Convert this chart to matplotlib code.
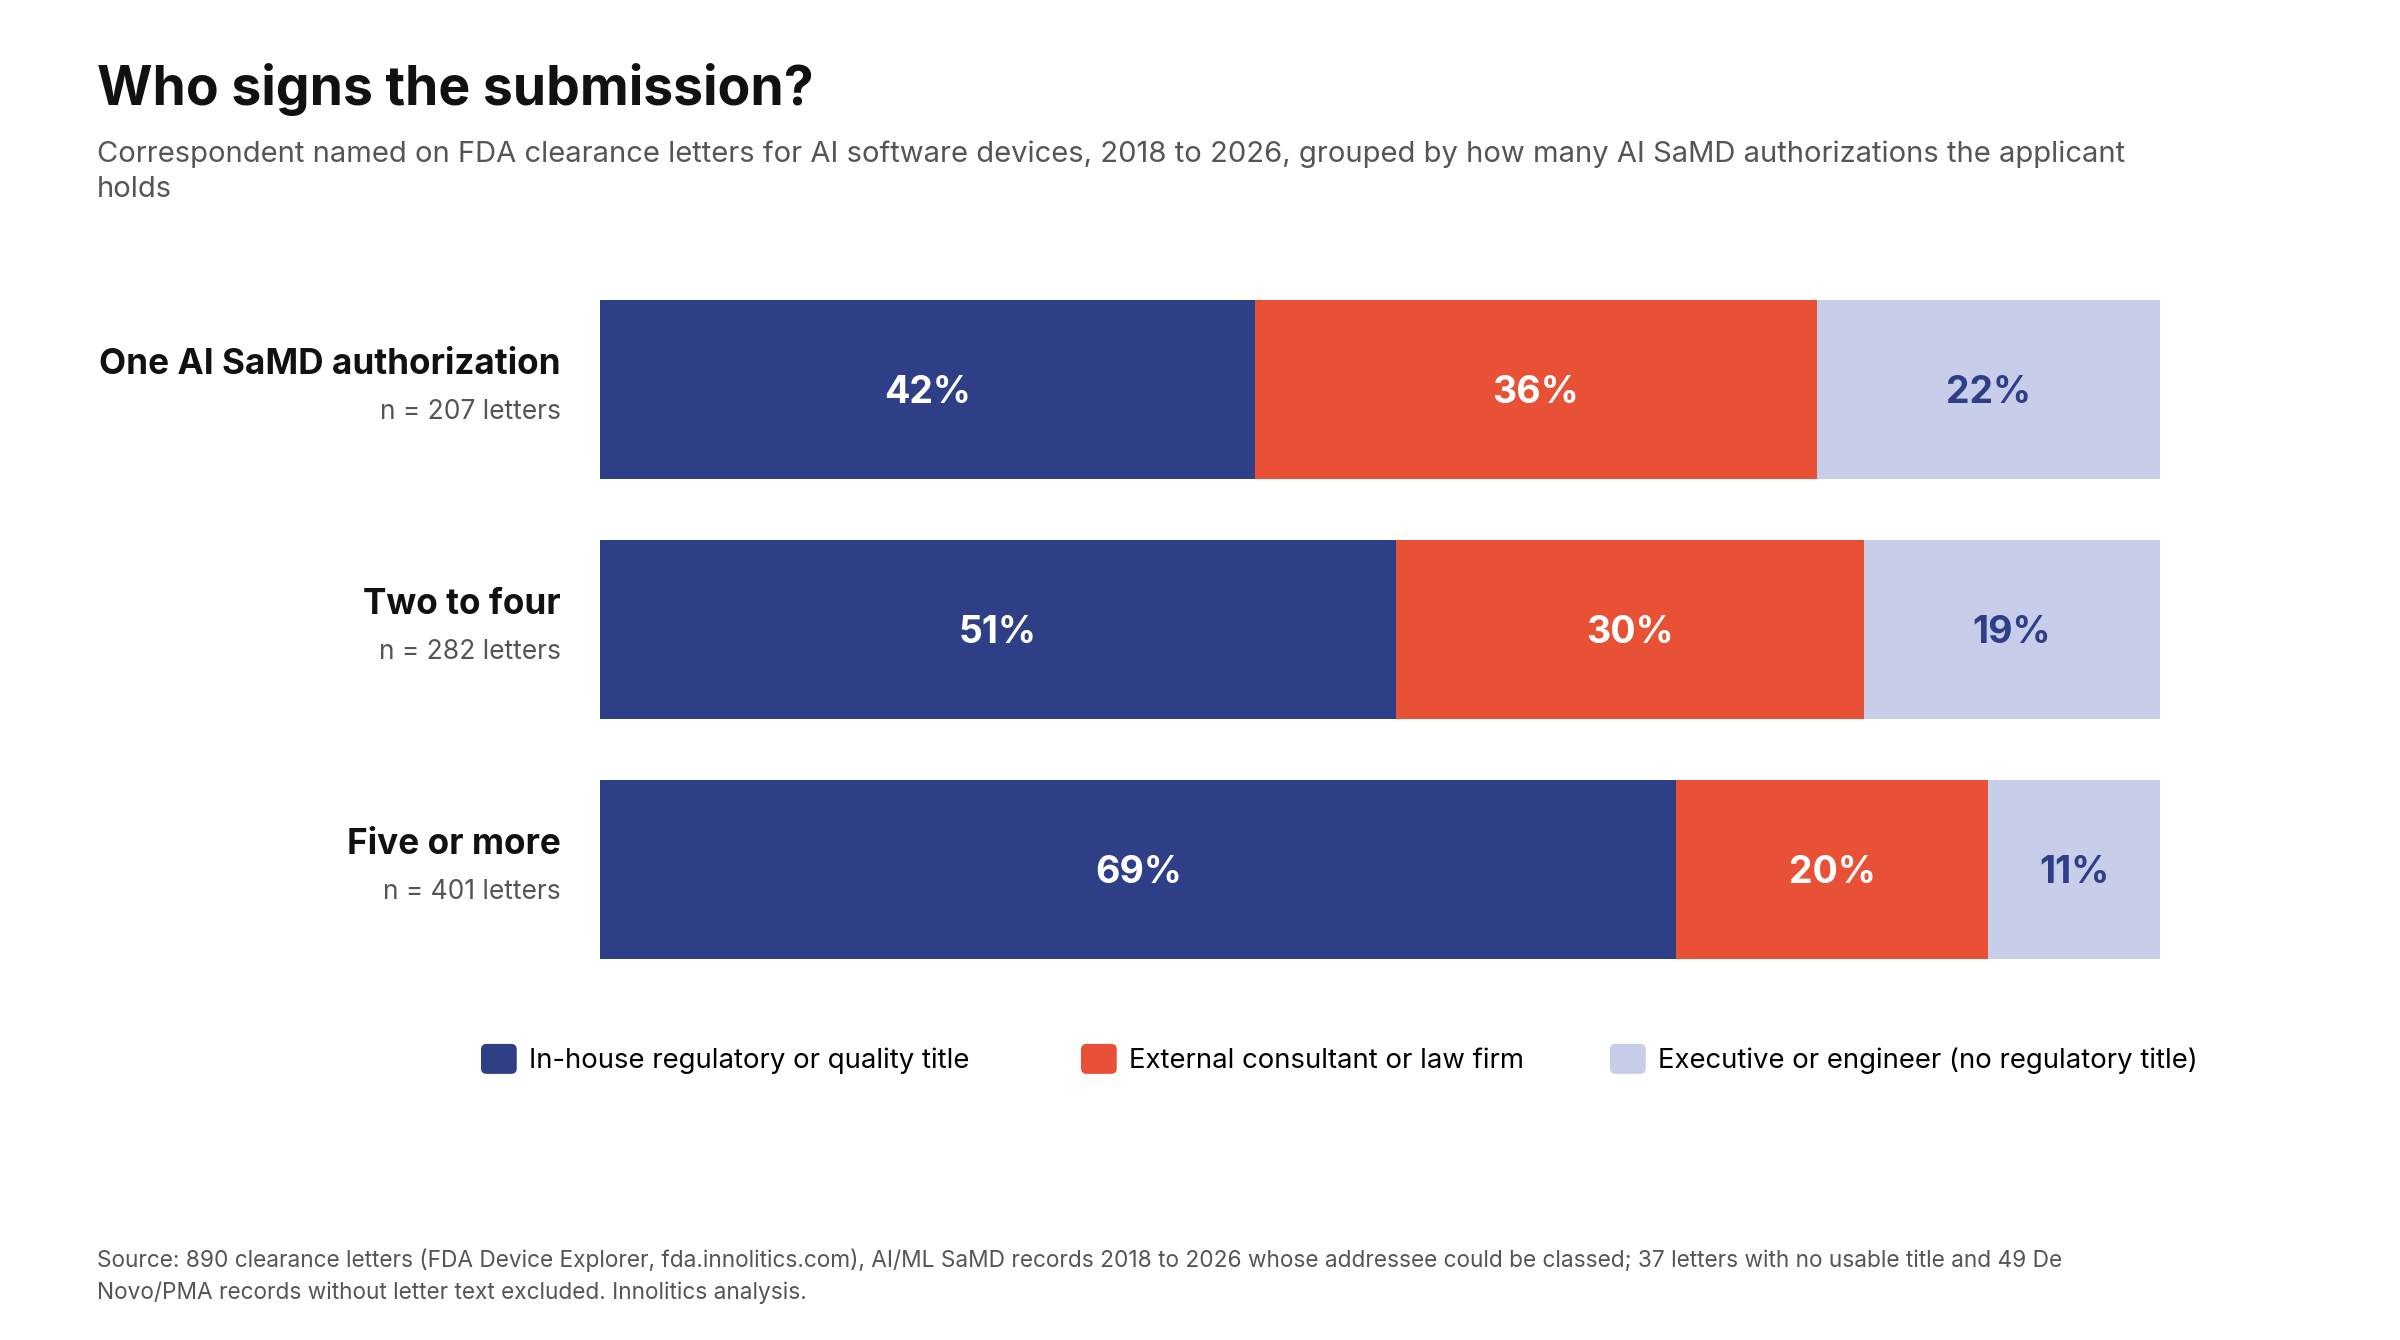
import matplotlib
matplotlib.use("Agg")
import matplotlib.pyplot as plt
from matplotlib.patches import Patch, FancyBboxPatch
from matplotlib.legend_handler import HandlerPatch

plt.rcParams['font.family'] = ['Inter', 'DejaVu Sans']

groups = ['One AI SaMD authorization', 'Two to four', 'Five or more']
counts = ['n = 207 letters', 'n = 282 letters', 'n = 401 letters']
series = ['In-house regulatory or quality title', 'External consultant or law firm',
          'Executive or engineer (no regulatory title)']
inhouse = [42, 51, 69]
external = [36, 30, 20]
executive = [22, 19, 11]

colors = ['#2E3F87', '#E85136', '#C8CEEA']
text_colors = ['white', 'white', '#2E3F87']

W, H = 2400, 1340
def fx(px):
    return px / W
def fy(py):
    return 1 - py / H

fig = plt.figure(figsize=(24, 13.4), dpi=100)
ax = fig.add_axes([fx(600), fy(959), fx(2160) - fx(600), fy(300) - fy(959)])

ypos = list(range(len(groups)))
left = [0] * len(groups)
for vals, c, tc, name in zip([inhouse, external, executive], colors, text_colors, series):
    ax.barh(ypos, vals, left=left, height=0.747, color=c, label=name)
    for y, v, l in zip(ypos, vals, left):
        ax.annotate(f'{v}%', xy=(l + v / 2, y), xytext=(0, -2.5), textcoords='offset points',
                    ha='center', va='center', color=tc, fontsize=27, fontweight='bold')
    left = [l + v for l, v in zip(left, vals)]

ax.set_xlim(0, 100)
ax.set_ylim(len(groups) - 1 + 0.373, -0.373)
ax.axis('off')

for y, g, n in zip(ypos, groups, counts):
    ax.annotate(g, xy=(0, y), xycoords='data', xytext=(-28, 6), textcoords='offset points',
                ha='right', va='bottom', fontsize=25.3, fontweight='bold', color='#111111')
    ax.annotate(n, xy=(0, y), xycoords='data', xytext=(-28, -7), textcoords='offset points',
                ha='right', va='top', fontsize=19, color='#555555')

fig.text(fx(97), fy(89), 'Who signs the submission?', fontsize=38.5, fontweight='bold',
         color='#111111', va='center', ha='left')
fig.text(fx(97), fy(140), 'Correspondent named on FDA clearance letters for AI software devices, 2018 to 2026, '
         'grouped by how many AI SaMD authorizations the applicant\nholds',
         fontsize=21, color='#555555', va='top', ha='left', linespacing=1.415)
fig.text(fx(97), fy(1249), 'Source: 890 clearance letters (FDA Device Explorer, fda.innolitics.com), AI/ML SaMD '
         'records 2018 to 2026 whose addressee could be classed; 37 letters with no usable title and 49 De\n'
         'Novo/PMA records without letter text excluded. Innolitics analysis.',
         fontsize=16.3, color='#555555', va='top', ha='left', linespacing=1.5)


class RoundHandler(HandlerPatch):
    def create_artists(self, legend, orig_handle, xdescent, ydescent, width, height, fontsize, trans):
        p = FancyBboxPatch((-xdescent, -ydescent), width, height,
                           boxstyle='round,pad=0,rounding_size=4',
                           facecolor=orig_handle.get_facecolor(), edgecolor='none', transform=trans)
        return [p]


legend_x = [481, 1081, 1610]
for c, s, lx in zip(colors, series, legend_x):
    h = Patch(facecolor=c, label=s)
    fig.legend(handles=[h], loc='center left', bbox_to_anchor=(fx(lx), fy(1059)),
               frameon=False, fontsize=19.8, handlelength=1.3, handleheight=1.3, handletextpad=0.45,
               borderpad=0, borderaxespad=0, handler_map={Patch: RoundHandler()})

fig.savefig('out.png', dpi=100, facecolor='white')
